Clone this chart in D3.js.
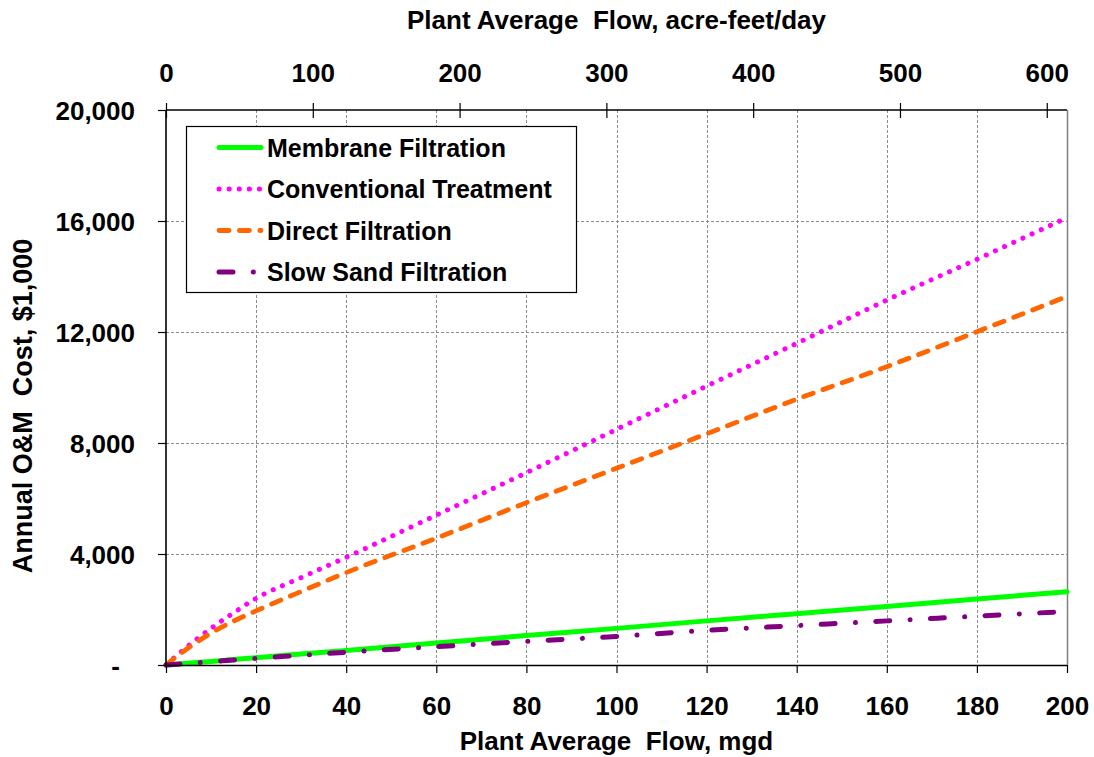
<!DOCTYPE html>
<html><head><meta charset="utf-8">
<script src="https://cdn.jsdelivr.net/npm/d3@7"></script>
<style>
html,body{margin:0;padding:0;background:#fff;}
svg text{font-family:"Liberation Sans",Arial,sans-serif;font-weight:bold;fill:#000;}
</style></head>
<body>
<svg id="chart" width="1094" height="757"></svg>
<script>
// ---- data ----
const flowMgd = [0, 5, 10, 15, 20, 30, 40, 60, 80, 100, 120, 140, 160, 180, 200];
const membrane = [0, 65, 130, 195, 265, 395, 525, 790, 1060, 1320, 1590, 1850, 2110, 2380, 2640];
const conventional = [0, 700, 1320, 1880, 2400, 3150, 3880, 5400, 6930, 8490, 10050, 11590, 13150, 14620, 16120];
const direct = [0, 620, 1150, 1580, 1950, 2650, 3330, 4570, 5850, 7090, 8330, 9580, 10750, 12010, 13280];
const slowSand = [0, 60, 120, 180, 240, 350, 460, 660, 850, 1030, 1250, 1420, 1590, 1760, 1930];
const seriesNames = ["Membrane Filtration", "Conventional Treatment", "Direct Filtration", "Slow Sand Filtration"];
const xTicks = [0, 20, 40, 60, 80, 100, 120, 140, 160, 180, 200];
const yTicks = [0, 4000, 8000, 12000, 16000, 20000];
const yTickLabels = ["-", "4,000", "8,000", "12,000", "16,000", "20,000"];
const topTicks = [0, 100, 200, 300, 400, 500, 600];
const acreFtPerMgd = 3.0689;
const xTitle = "Plant Average  Flow, mgd";
const topTitle = "Plant Average  Flow, acre-feet/day";
const yTitle = "Annual O&M  Cost, $1,000";

// ---- layout ----
const L = 166, R = 1067, T = 110, B = 665;
const svg = d3.select("#chart");
const x = d3.scaleLinear().domain([0, 200]).range([L, R]);
const xTop = d3.scaleLinear().domain([0, 200 * acreFtPerMgd]).range([L, R]);
const y = d3.scaleLinear().domain([0, 20000]).range([B, T]);

// grid
const grid = svg.append("g").attr("stroke", "#8c8c8c").attr("stroke-width", 1).attr("stroke-dasharray", "3,2").attr("shape-rendering", "crispEdges");
grid.selectAll("line.v").data(xTicks.slice(1, -1)).join("line")
  .attr("x1", d => Math.round(x(d)) + 0.5).attr("x2", d => Math.round(x(d)) + 0.5).attr("y1", T).attr("y2", B);
grid.selectAll("line.h").data(yTicks.slice(1, -1)).join("line")
  .attr("y1", d => Math.round(y(d)) + 0.5).attr("y2", d => Math.round(y(d)) + 0.5).attr("x1", L).attr("x2", R);
// right border
svg.append("line").attr("x1", R + 0.5).attr("x2", R + 0.5).attr("y1", T).attr("y2", B)
  .attr("stroke", "#808080").attr("stroke-width", 1.5);

// series
const styles = [
  {color: "#00ff00", width: 5, dash: null},
  {color: "#ff00ff", width: 5, dash: "0.1,10"},
  {color: "#ff6600", width: 4.8, dash: "10,10.4"},
  {color: "#800080", width: 5, dash: "14,20.3,0.1,20.3"}
];
const allSeries = [membrane, conventional, direct, slowSand];
const line = d3.line().x((d, i) => x(flowMgd[i])).y(d => y(d)).curve(d3.curveMonotoneX);
allSeries.forEach((vals, k) => {
  const s = styles[k];
  const p = svg.append("path").datum(vals).attr("d", line).attr("fill", "none")
    .attr("stroke", s.color).attr("stroke-width", s.width)
    .attr("stroke-linecap", "round").attr("stroke-linejoin", "round");
  if (s.dash) p.attr("stroke-dasharray", s.dash);
});

// axes
const fs = 26;
const axL = svg.append("g").attr("transform", `translate(${L},0)`)
  .call(d3.axisLeft(y).tickValues(yTicks).tickSize(8).tickPadding(23).tickFormat((d, i) => yTickLabels[i]));
axL.selectAll("text").attr("font-size", fs).attr("dy", "0.36em")
  .attr("dx", (d, i) => yTickLabels[i] === "-" ? -15 : 0);
const axB = svg.append("g").attr("transform", `translate(0,${B})`)
  .call(d3.axisBottom(x).tickValues(xTicks).tickSize(8).tickFormat(d3.format("d")));
axB.selectAll("text").attr("font-size", fs).attr("y", 50).attr("dy", 0);
const axT = svg.append("g").attr("transform", `translate(0,${T})`)
  .call(d3.axisTop(xTop).tickValues(topTicks).tickSize(8).tickFormat(d3.format("d")));
axT.selectAll(".tick line").attr("y1", 8).attr("y2", -7);
axT.selectAll("text").attr("font-size", fs).attr("y", -28).attr("dy", 0);
[axL, axB, axT].forEach(a => {
  a.attr("font-family", null).attr("font-size", null);
  a.select(".domain").attr("stroke", "#000").attr("stroke-width", 1.6);
  a.selectAll(".tick line").attr("stroke", "#000").attr("stroke-width", 1.2);
});
axB.select(".domain").attr("d", `M${L},0.5H${R}`);
axT.select(".domain").attr("d", `M${L},0H${R}`);
axL.select(".domain").attr("d", `M0,${T}V${B}`);

// titles
svg.append("text").attr("x", (L + R) / 2).attr("y", 29).attr("text-anchor", "middle").attr("font-size", fs)
  .style("white-space", "pre").text(topTitle);
svg.append("text").attr("x", (L + R) / 2).attr("y", 750).attr("text-anchor", "middle").attr("font-size", fs)
  .style("white-space", "pre").text(xTitle);
svg.append("text").attr("transform", "translate(32,406) rotate(-90)").attr("text-anchor", "middle").attr("font-size", 27)
  .style("white-space", "pre").text(yTitle);

// legend
const lg = svg.append("g");
lg.append("rect").attr("x", 186.5).attr("y", 126.5).attr("width", 390).attr("height", 166)
  .attr("fill", "#fff").attr("stroke", "#000").attr("stroke-width", 1.2);
const rowY = [147.5, 189, 230.5, 272];
seriesNames.forEach((name, k) => {
  const s = styles[k];
  const l = lg.append("line").attr("x1", 219).attr("x2", 261).attr("y1", rowY[k]).attr("y2", rowY[k])
    .attr("stroke", s.color).attr("stroke-width", s.width).attr("stroke-linecap", "round");
  if (s.dash) l.attr("stroke-dasharray", s.dash);
  lg.append("text").attr("x", 267).attr("y", rowY[k]).attr("dy", "0.36em").attr("font-size", 25).text(name);
});
</script>
</body></html>
